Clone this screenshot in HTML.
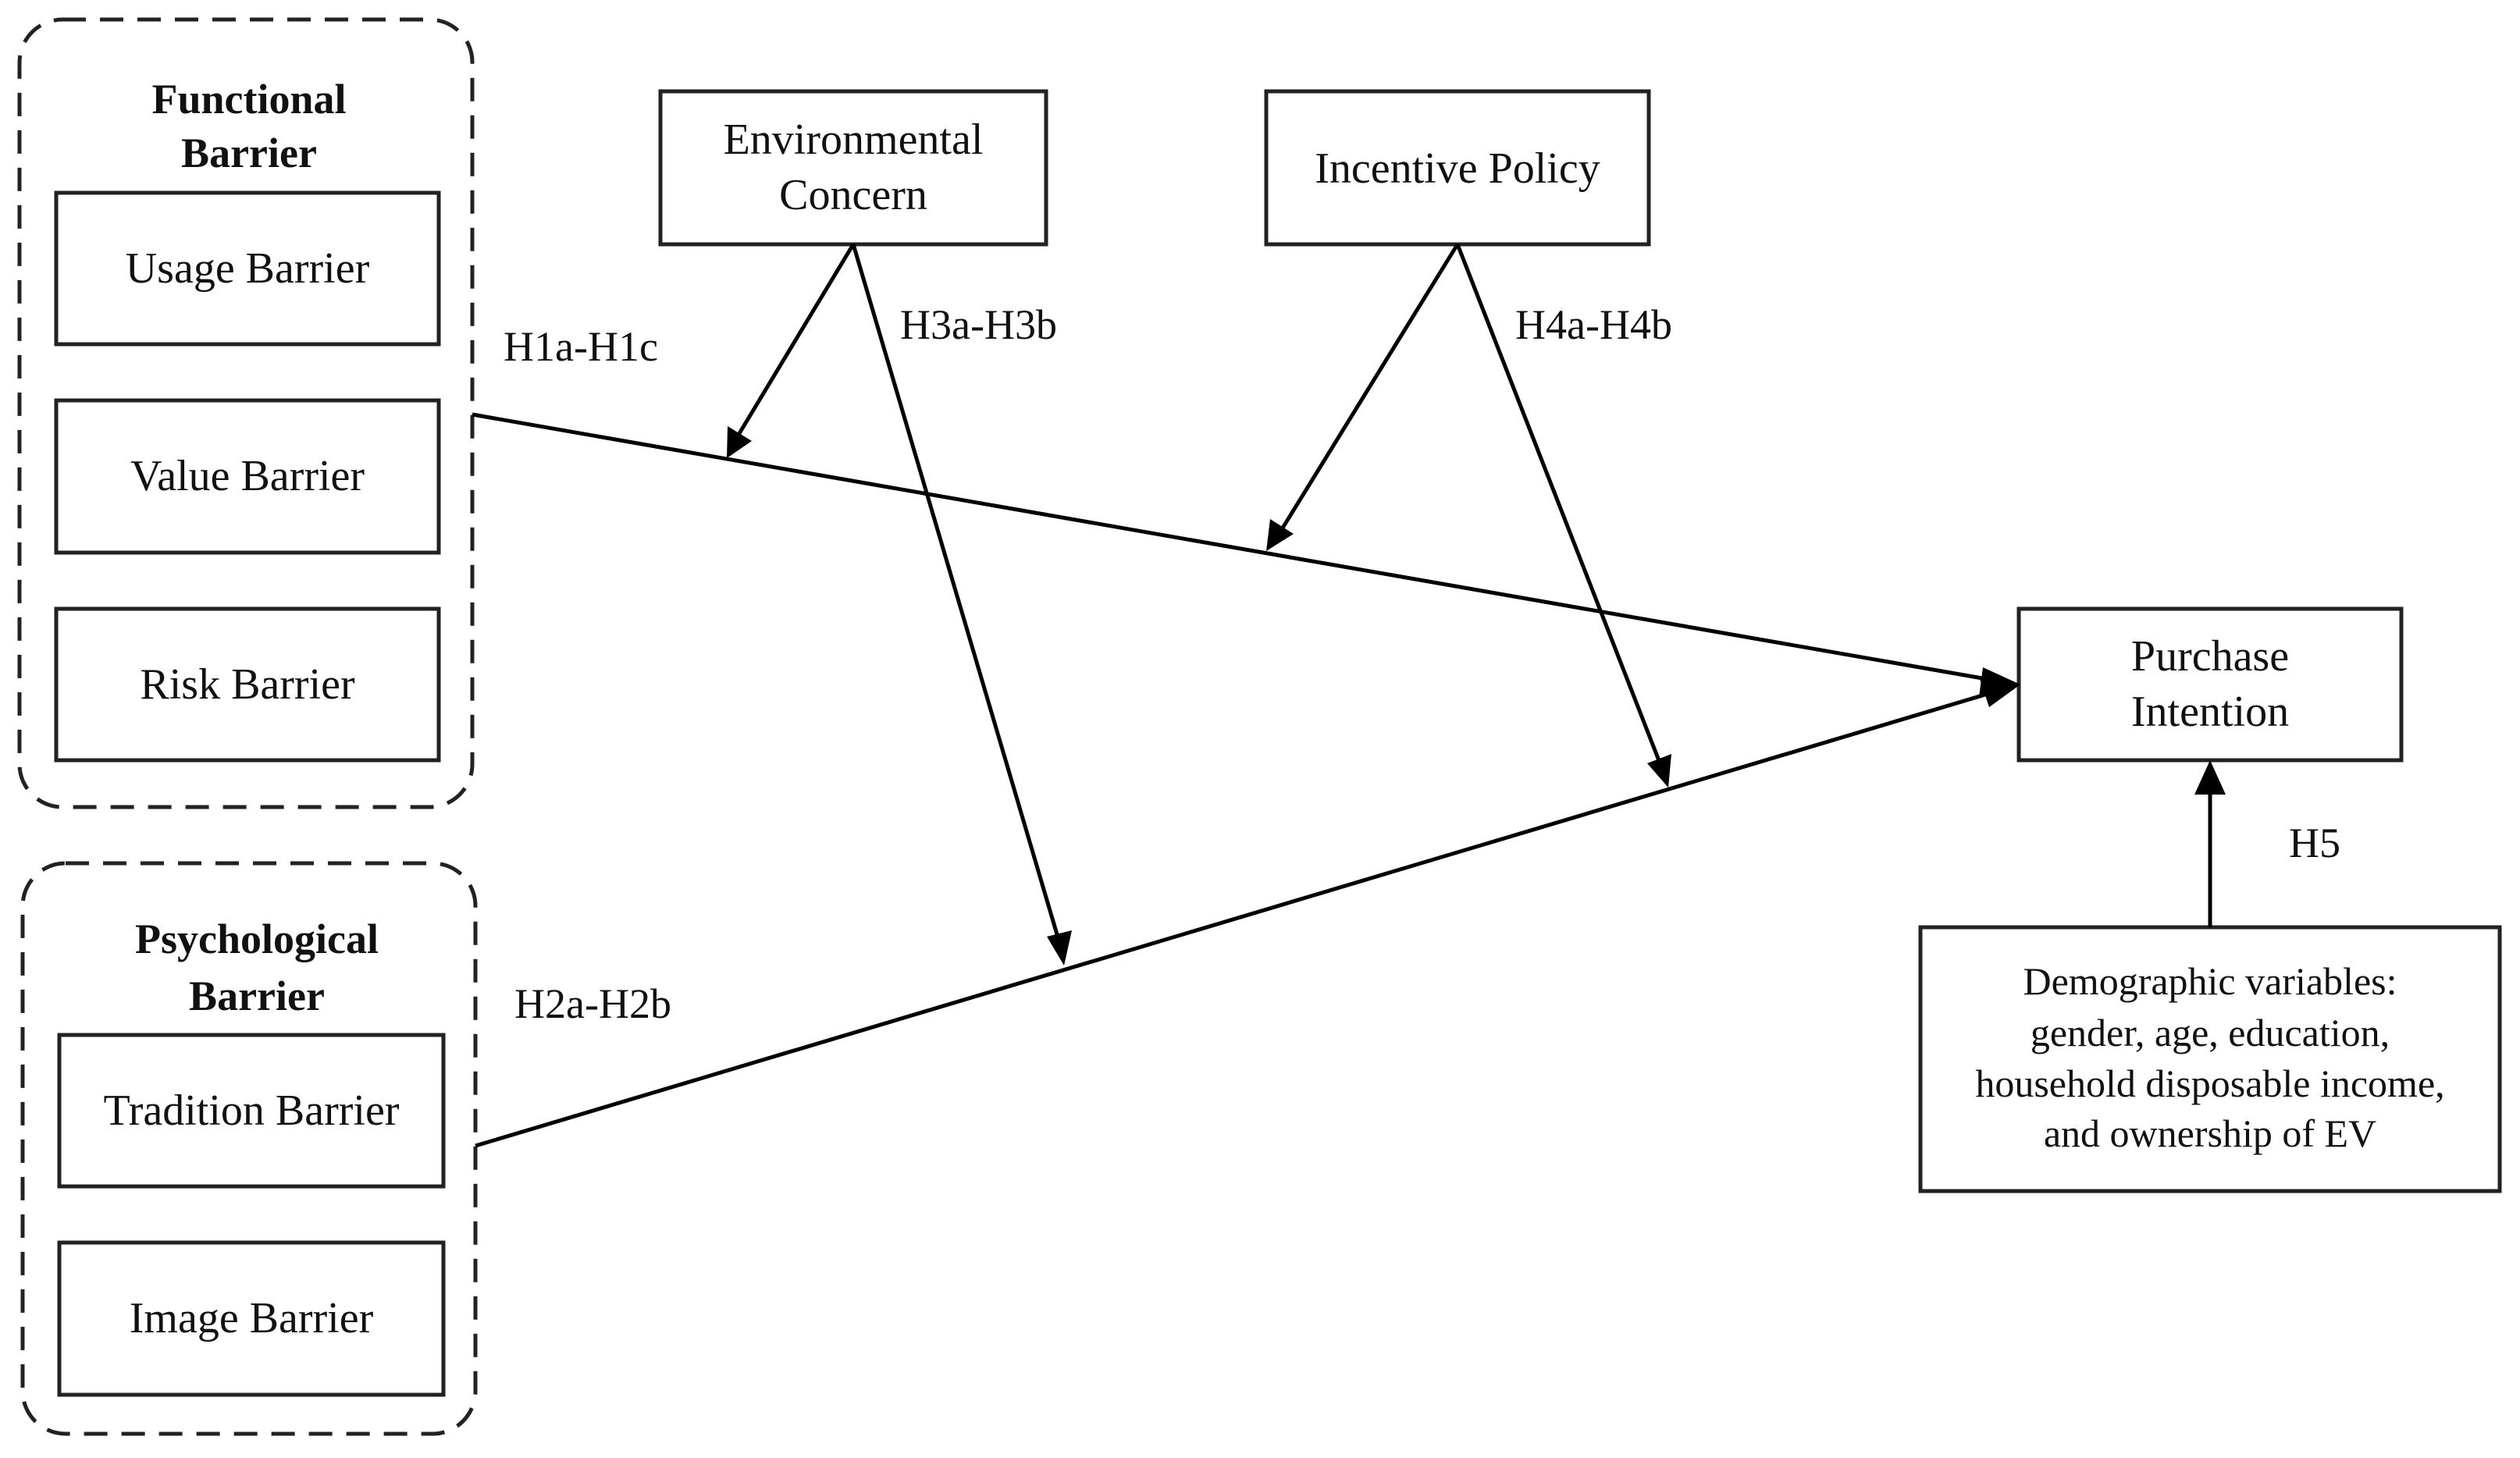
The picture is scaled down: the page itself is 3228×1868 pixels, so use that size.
<!DOCTYPE html>
<html><head><meta charset="utf-8"><style>
html,body{margin:0;padding:0;background:#fff}
svg{display:block}
text{font-family:"Liberation Serif",serif;fill:#111}
</style></head><body>
<svg width="3228" height="1868" viewBox="0 0 3228 1868" xmlns="http://www.w3.org/2000/svg">
<defs>
<marker id="a" markerWidth="10" markerHeight="8" refX="9.5" refY="4" orient="auto" markerUnits="userSpaceOnUse" viewBox="0 0 10 8">
</marker>
</defs>
<g fill="none" stroke="#222" stroke-width="5">
<rect x="25" y="25" width="580" height="1009" rx="55" stroke-dasharray="30,18"/>
<rect x="29" y="1106" width="580" height="731" rx="55" stroke-dasharray="30,18"/>
<rect x="72" y="247" width="490" height="194"/>
<rect x="72" y="513" width="490" height="195"/>
<rect x="72" y="780" width="490" height="194"/>
<rect x="76" y="1326" width="492" height="194"/>
<rect x="76" y="1592" width="492" height="195"/>
<rect x="846" y="117" width="494" height="196"/>
<rect x="1622" y="117" width="490" height="196"/>
<rect x="2586" y="780" width="490" height="194"/>
<rect x="2460" y="1188" width="742" height="338"/>
</g>
<g stroke="#000" stroke-width="5" fill="none">
<line x1="605" y1="531" x2="2545" y2="870"/>
<line x1="609" y1="1468" x2="2546" y2="889"/>
<line x1="1093" y1="313" x2="946" y2="557"/>
<line x1="1093" y1="313" x2="1356" y2="1204"/>
<line x1="1867" y1="313" x2="1642" y2="678"/>
<line x1="1867" y1="313" x2="2126" y2="977"/>
<line x1="2831" y1="1188" x2="2831" y2="1015"/>
</g>
<g fill="#000">
<polygon points="2588,877 2540,855 2535,893"/>
<polygon points="2588,877 2536,870 2548,906"/>
<polygon points="931,587 932,546 963,565"/>
<polygon points="1363,1237 1341,1200 1373,1192"/>
<polygon points="1622,706 1627,665 1657,684"/>
<polygon points="2137,1009 2110,978 2141,966"/>
<polygon points="2831,974 2811,1018 2851,1018"/>
</g>
<g font-size="54" text-anchor="middle">
<text x="319" y="145" font-weight="bold">Functional</text>
<text x="319" y="214" font-weight="bold">Barrier</text>
<text x="329" y="1221" font-weight="bold">Psychological</text>
<text x="329" y="1294" font-weight="bold">Barrier</text>
<text x="317" y="362" font-size="56">Usage Barrier</text>
<text x="317" y="628" font-size="56">Value Barrier</text>
<text x="317" y="895" font-size="56">Risk Barrier</text>
<text x="322" y="1441" font-size="56">Tradition Barrier</text>
<text x="322" y="1707" font-size="56">Image Barrier</text>
<text x="1093" y="197" font-size="56">Environmental</text>
<text x="1093" y="268" font-size="56">Concern</text>
<text x="1867" y="234" font-size="56">Incentive Policy</text>
<text x="2831" y="859" font-size="56">Purchase</text>
<text x="2831" y="930" font-size="56">Intention</text>
<text x="2831" y="1274" font-size="50">Demographic variables:</text>
<text x="2831" y="1340" font-size="50">gender, age, education,</text>
<text x="2831" y="1405" font-size="50">household disposable income,</text>
<text x="2831" y="1469" font-size="50">and ownership of EV</text>
</g>
<g font-size="54">
<text x="645" y="462">H1a-H1c</text>
<text x="1153" y="434">H3a-H3b</text>
<text x="1941" y="434">H4a-H4b</text>
<text x="659" y="1304">H2a-H2b</text>
<text x="2932" y="1098">H5</text>
</g>
</svg>
</body></html>
